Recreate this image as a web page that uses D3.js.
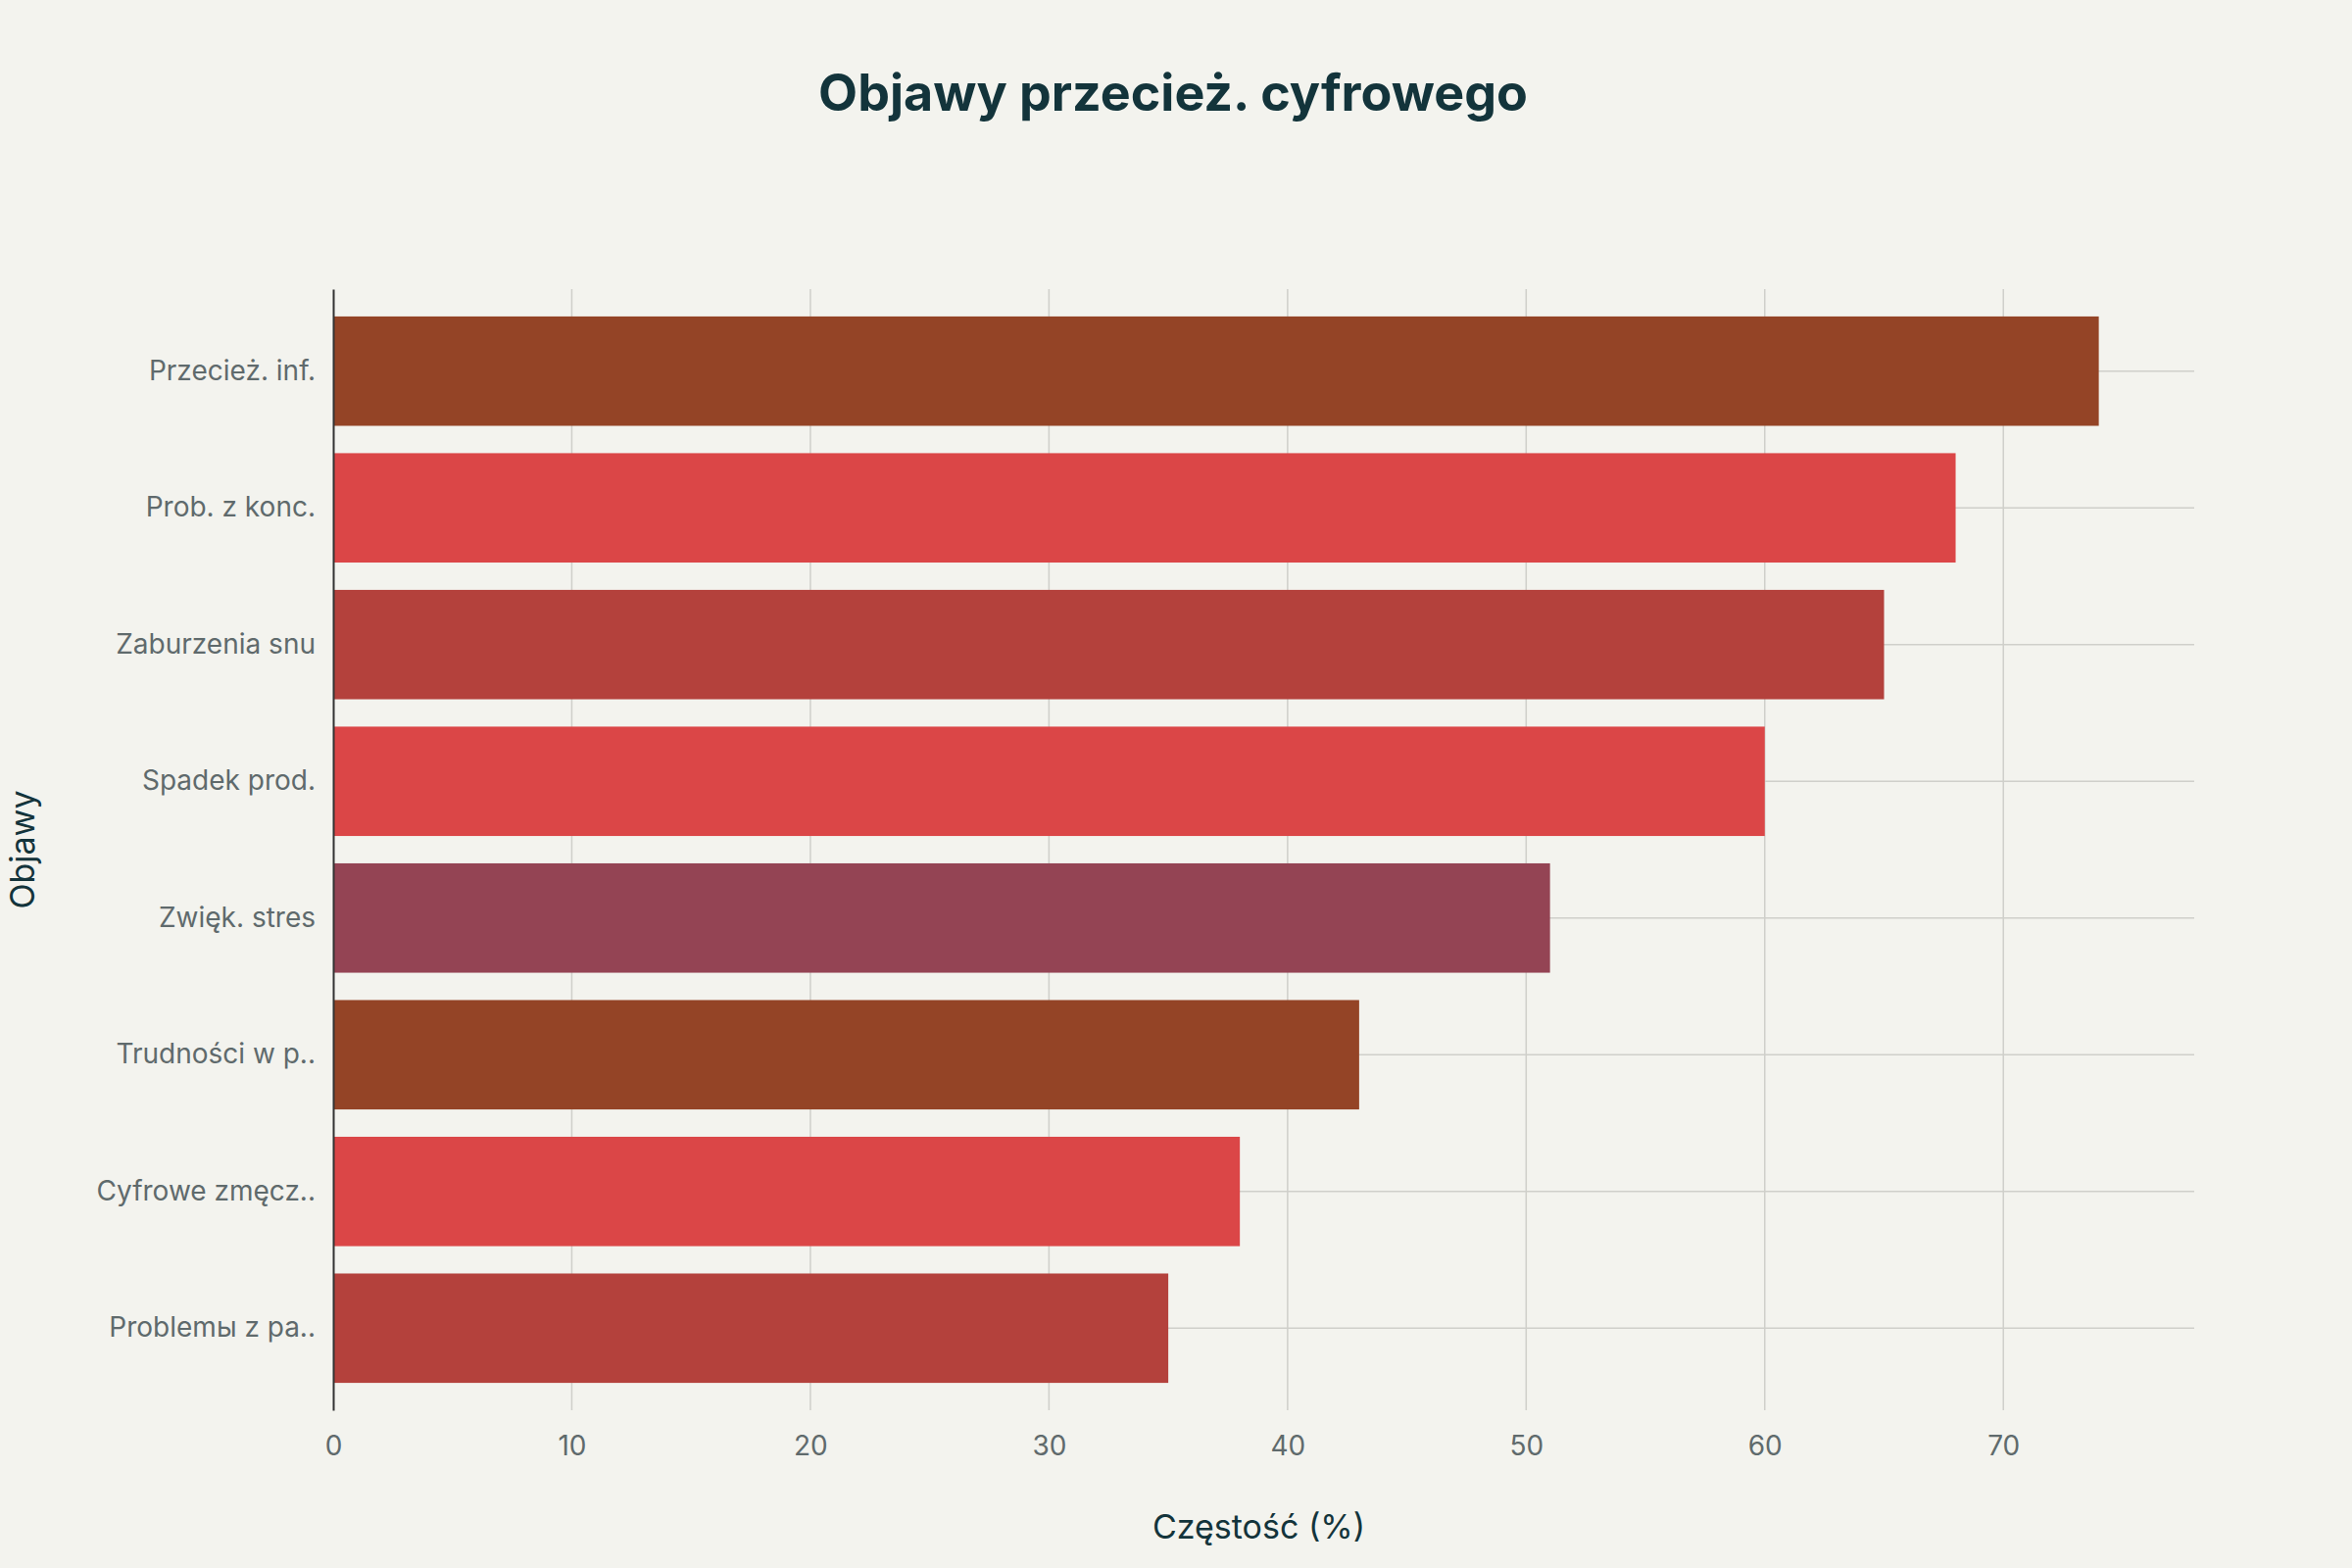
<!DOCTYPE html>
<html lang="en">
<head>
<meta charset="UTF-8" />
<script src="https://d3js.org/d3.v7.min.js"></script>
<style>
  body { margin: 0; background: #F3F3EE; }
  text { font-family: Inter, "Noto Sans", sans-serif; }
</style>
</head>
<body>
<script>
  // Data
  const categories = ["Przecież. inf.", "Prob. z konc.", "Zaburzenia snu", "Spadek prod.",
                      "Zwięk. stres", "Trudności w p..", "Cyfrowe zmęcz..", "Problemы z pa.."];
  const values = [74, 68, 65, 60, 51, 43, 38, 35];
  const colors = ["#944426", "#DB4647", "#B4413C", "#DB4647", "#944454", "#944426", "#DB4647", "#B4413C"];
  const xTicks = [0, 10, 20, 30, 40, 50, 60, 70];

  const W = 2400, H = 1600;
  const margin = { top: 295, right: 161, bottom: 161, left: 340 };
  const width = W - margin.left - margin.right,
        height = H - margin.top - margin.bottom;

  const svg = d3.select("body").append("svg")
    .attr("width", W).attr("height", H)
    .style("background", "#F3F3EE");

  svg.append("text")
    .attr("x", W / 2 - 3).attr("y", 113)
    .attr("text-anchor", "middle")
    .attr("font-size", 52).attr("font-weight", 700)
    .attr("fill", "#13343B")
    .text("Objawy przecież. cyfrowego");

  const g = svg.append("g").attr("transform", `translate(${margin.left},${margin.top})`);

  const x = d3.scaleLinear().domain([0, 78]).range([0, width]);
  const y = d3.scaleBand().domain(categories).range([0, height]).padding(0.2);

  // grid
  g.selectAll(".vgrid").data(xTicks.slice(1)).enter().append("line")
    .attr("x1", d => x(d)).attr("x2", d => x(d))
    .attr("y1", 0).attr("y2", height)
    .attr("stroke", "#cfcfca").attr("stroke-width", 1.5);
  g.selectAll(".hgrid").data(categories).enter().append("line")
    .attr("x1", 0).attr("x2", width)
    .attr("y1", d => y(d) + y.bandwidth() / 2).attr("y2", d => y(d) + y.bandwidth() / 2)
    .attr("stroke", "#cfcfca").attr("stroke-width", 1.5);

  // bars
  g.selectAll(".bar").data(values).enter().append("rect")
    .attr("x", 0)
    .attr("y", (d, i) => y(categories[i]))
    .attr("width", d => x(d))
    .attr("height", y.bandwidth())
    .attr("fill", (d, i) => colors[i]);

  // axes
  const xAxis = g.append("g").attr("transform", `translate(0,${height})`)
    .call(d3.axisBottom(x).tickValues(xTicks).tickSize(0).tickPadding(26));
  xAxis.select(".domain").remove();
  xAxis.selectAll("text").attr("font-size", 28).attr("fill", "#5f6a6c");

  const yAxis = g.append("g")
    .call(d3.axisLeft(y).tickSize(0).tickPadding(18));
  yAxis.select(".domain").attr("stroke", "#333").attr("stroke-width", 2);
  yAxis.selectAll("text").attr("font-size", 28).attr("fill", "#5f6a6c");

  svg.append("text")
    .attr("x", margin.left + x(0) + (x(78) - x(0)) / 2 - 5).attr("y", 1570)
    .attr("text-anchor", "middle")
    .attr("font-size", 34).attr("fill", "#13343B")
    .text("Częstość (%)");

  svg.append("text")
    .attr("transform", `translate(35,${margin.top + height / 2}) rotate(-90)`)
    .attr("text-anchor", "middle")
    .attr("font-size", 34).attr("fill", "#13343B")
    .text("Objawy");
</script>
</body>
</html>
